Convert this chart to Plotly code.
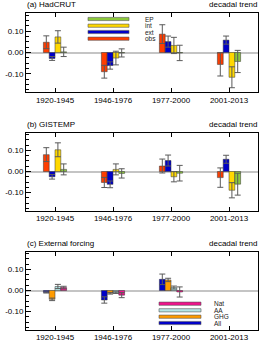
import plotly.graph_objects as go

W, H = 266, 348

periods = ["1920-1945", "1946-1976", "1977-2000", "2001-2013"]
ytick_vals = [-0.10, 0.0, 0.10]
ytick_text = ["-0.10", "0.00", "0.10"]

# Panel (a) HadCRUT
a_obs = [0.048, -0.090, 0.086, -0.056]
a_obs_err = [0.030, 0.030, 0.044, 0.054]
a_ext = [-0.028, -0.061, 0.051, 0.058]
a_ext_err = [0.009, 0.017, 0.026, 0.019]
a_int = [0.073, -0.026, 0.033, -0.116]
a_int_err = [0.029, 0.032, 0.038, 0.049]
a_ep = [0.003, -0.002, -0.002, -0.042]
a_ep_err = [0.022, 0.019, 0.036, 0.052]

# Panel (b) GISTEMP
b_obs = [0.080, -0.052, 0.026, -0.029]
b_obs_err = [0.033, 0.024, 0.033, 0.046]
b_ext = [-0.025, -0.061, 0.052, 0.058]
b_ext_err = [0.011, 0.016, 0.026, 0.019]
b_int = [0.103, 0.010, -0.025, -0.089]
b_int_err = [0.033, 0.026, 0.024, 0.036]
b_ep = [0.010, -0.009, -0.008, -0.060]
b_ep_err = [0.026, 0.022, 0.037, 0.052]

# Panel (c) External forcing
c_all = [-0.009, -0.045, 0.053, None]
c_all_err = [0.003, 0.015, 0.025, 0]
c_ghg = [-0.042, -0.013, 0.050, None]
c_ghg_err = [0.006, 0.004, 0.008, 0]
c_aa = [0.019, -0.010, 0.014, None]
c_aa_err = [0.010, 0.004, 0.007, 0]
c_nat = [0.014, -0.022, -0.007, None]
c_nat_err = [0.006, 0.012, 0.024, 0]

C_OBS, C_EXT, C_INT, C_EP = "#ff3d00", "#0000c8", "#ffd800", "#8cc83c"
C_ALL, C_GHG, C_AA, C_NAT = "#0000c8", "#ff9b00", "#b4e6e6", "#f0148c"

panels = [
    ("(a) HadCRUT", [("obs", a_obs, a_obs_err, C_OBS), ("ext", a_ext, a_ext_err, C_EXT),
                     ("int", a_int, a_int_err, C_INT), ("EP", a_ep, a_ep_err, C_EP)]),
    ("(b) GISTEMP", [("obs", b_obs, b_obs_err, C_OBS), ("ext", b_ext, b_ext_err, C_EXT),
                     ("int", b_int, b_int_err, C_INT), ("EP", b_ep, b_ep_err, C_EP)]),
    ("(c) External forcing", [("All", c_all, c_all_err, C_ALL), ("GHG", c_ghg, c_ghg_err, C_GHG),
                              ("AA", c_aa, c_aa_err, C_AA), ("Nat", c_nat, c_nat_err, C_NAT)]),
]

# layout geometry (pixels)
X0, X1 = 26, 258
boxes = [(13, 92), (132.5, 210.5), (251.5, 329.5)]

def px(x):
    return x / W

def py(y):
    return 1 - y / H

fig = go.Figure()
FONT = "Liberation Sans, Arial, Helvetica, sans-serif"
annotations = []
shapes = []

for i, (title, series) in enumerate(panels):
    ax = "" if i == 0 else str(i + 1)
    xa, ya = "x" + ax, "y" + ax
    for name, vals, errs, col in series:
        fig.add_trace(go.Bar(
            x=periods, y=vals, name=name, xaxis=xa, yaxis=ya,
            marker=dict(color=col, line=dict(color="#333333", width=0.5)),
            error_y=dict(type="data", array=errs, visible=True,
                         color="#5a5a5a", thickness=1, width=3),
            showlegend=False,
        ))
    top, bot = boxes[i]
    fig.layout["xaxis" + ax] = dict(
        domain=[px(X0), px(X1)], anchor=ya, type="category", range=[-0.5, 3.5],
        showline=True, linecolor="black", linewidth=1, mirror="ticks",
        ticks="inside", ticklen=4, tickcolor="black", showgrid=False,
        tickfont=dict(family=FONT, size=8, color="black"), fixedrange=True,
    )
    fig.layout["yaxis" + ax] = dict(
        domain=[py(bot), py(top)], anchor=xa, range=[-0.185, 0.185],
        tickvals=ytick_vals, ticktext=ytick_text,
        showline=True, linecolor="black", linewidth=1, mirror=True,
        ticks="inside", ticklen=5, tickcolor="black", showgrid=False,
        minor=dict(dtick=0.025, tick0=0, ticks="inside", ticklen=3, tickcolor="black", showgrid=False),
        zeroline=True, zerolinecolor="#c4c4c4", zerolinewidth=1.5,
        tickfont=dict(family=FONT, size=8, color="black"), fixedrange=True,
    )
    annotations.append(dict(text=title, x=px(X0 - 1), y=py(top - 2), xref="paper", yref="paper",
                            xanchor="left", yanchor="bottom", showarrow=False,
                            font=dict(family=FONT, size=8, color="black")))
    annotations.append(dict(text="decadal trend", x=px(X1 + 1), y=py(top - 2), xref="paper", yref="paper",
                            xanchor="right", yanchor="bottom", showarrow=False,
                            font=dict(family=FONT, size=8, color="black")))

# custom legends (line-style swatches)
legend_specs = [
    (88, 129, 143, [19, 25.7, 32, 38.7], [("EP", C_EP), ("int", C_INT), ("ext", C_EXT), ("obs", C_OBS)]),
    (159, 201, 212, [303.7, 310.3, 316.7, 323], [("Nat", C_NAT), ("AA", C_AA), ("GHG", C_GHG), ("All", C_ALL)]),
]
for lx0, lx1, tx, rows, items in legend_specs:
    for yy, (lab, col) in zip(rows, items):
        shapes.append(dict(type="rect", xref="paper", yref="paper",
                           x0=px(lx0), x1=px(lx1), y0=py(yy + 1.6), y1=py(yy - 1.6),
                           fillcolor=col, line=dict(color="#555555", width=0.6)))
        annotations.append(dict(text=lab, x=px(tx), y=py(yy), xref="paper", yref="paper",
                                xanchor="left", yanchor="middle", showarrow=False,
                                font=dict(family=FONT, size=6.5, color="#222222")))

fig.update_layout(
    width=W, height=H, margin=dict(l=0, r=0, t=0, b=0),
    paper_bgcolor="white", plot_bgcolor="white",
    barmode="group", bargap=0.6, bargroupgap=0,
    annotations=annotations, shapes=shapes, showlegend=False,
)

fig.write_html("out.html", config={"displayModeBar": False},
               post_script="document.body.style.margin='0';document.body.style.overflow='hidden';")
